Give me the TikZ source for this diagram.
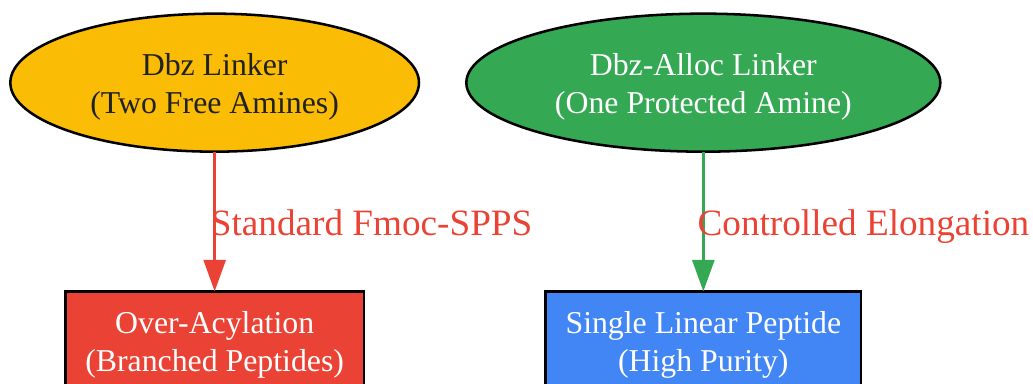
\documentclass[tikz,border=0pt]{standalone}
\usepackage{fontspec}
\setmainfont{Liberation Serif}
\usetikzlibrary{shapes.geometric,arrows.meta}
\definecolor{cy}{HTML}{FBBC05}
\definecolor{cg}{HTML}{34A853}
\definecolor{cr}{HTML}{EA4335}
\definecolor{cb}{HTML}{4285F4}
\definecolor{cd}{HTML}{202124}
\newcommand{\firststrut}{\rule{0pt}{22.8pt}}
\newcommand{\boxstrut}{\rule{0pt}{21pt}}
\tikzset{x=1pt,y=-1pt,
 ell/.style={ellipse,draw=black,line width=1.9pt,inner sep=0pt,outer sep=0pt,align=center,font=\fontsize{23.85pt}{28.6pt}\selectfont},
 box/.style={rectangle,draw=black,line width=1.9pt,inner sep=0pt,outer sep=0pt,align=center,font=\fontsize{23.85pt}{28.6pt}\selectfont},
 lab/.style={font=\fontsize{27.9pt}{32pt}\selectfont,text=cr,inner sep=0pt,anchor=base west},
 conn/.style={line width=1.9pt,-{Triangle[length=23.5pt,width=16.5pt]}}}
\begin{document}
\begin{tikzpicture}
\useasboundingbox (0,0) rectangle (774.75,288);
\node[ell,fill=cy,text=cd,minimum width=306.5pt,minimum height=103.5pt] (a) at (161,62) {\firststrut Dbz Linker\\(Two Free Amines)};
\node[ell,fill=cg,text=white,minimum width=355.5pt,minimum height=103.5pt] (b) at (527.5,62) {\firststrut Dbz-Alloc Linker\\(One Protected Amine)};
\node[box,fill=cr,text=white,minimum width=224pt,minimum height=75.5pt] (c) at (161,256.25) {\boxstrut Over-Acylation\\(Branched Peptides)};
\node[box,fill=cb,text=white,minimum width=236.5pt,minimum height=75.5pt] (d) at (527.5,256.25) {\boxstrut Single Linear Peptide\\(High Purity)};
\draw[conn,draw=cr,fill=cr] (a) -- (c);
\draw[conn,draw=cg,fill=cg] (b) -- (d);
\node[lab] (l1) at (158,176.5) {Standard Fmoc-SPPS};
\node[lab] (l2) at (523,176.5) {Controlled Elongation};
\end{tikzpicture}
\end{document}
